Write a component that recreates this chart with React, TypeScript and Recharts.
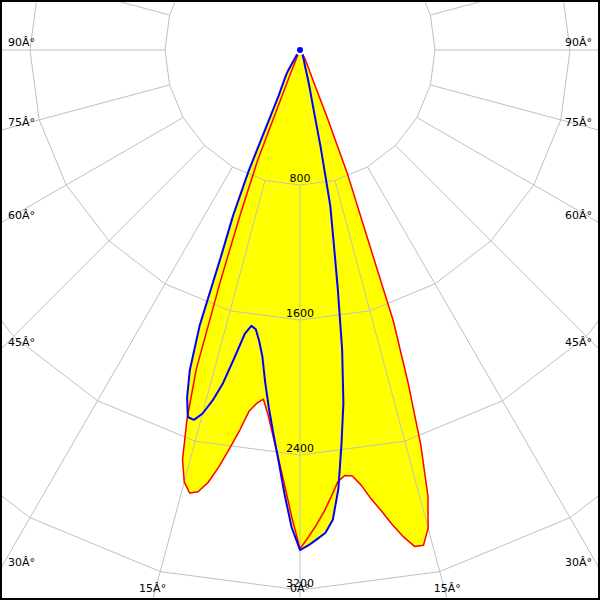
import React from 'react';
import { RadarChart, Radar, PolarGrid, PolarAngleAxis, PolarRadiusAxis } from 'recharts';

const W = 600;
const H = 600;
const CX = 300;
const CY = 50;
const OUTER = 675; // 4000 cd

// gamma angle (deg), 0 = straight down
const angles = [
  -180, -135, -90, -60, -45, -40, -35,
  -30, -29, -28, -27, -26, -25, -24, -23, -22, -21, -20, -19, -18, -17, -16,
  -15, -14, -13, -12, -11, -10, -9, -8, -7, -6, -5, -4, -3, -2, -1,
  0,
  1, 2, 3, 4, 5, 6, 7, 8, 9, 10, 11, 12, 13, 14, 15,
  16, 17, 18, 19, 20, 21, 22, 23, 24, 25, 26, 27, 28, 29, 30,
  35, 40, 45, 60, 90, 135, 180,
];

// cd/klm, red plane (filled)
const redPlane = [
  0, 0, 0, 0, 0, 0, 0,
  0, 0, 0, 0, 0, 0, 10, 40, 150, 700, 1020, 1450, 1990, 2292, 2525,
  2650, 2705, 2687, 2620, 2515, 2395, 2280, 2160, 2110, 2080, 2170, 2293, 2427, 2585, 2770,
  2955,
  2886, 2815, 2738, 2653, 2569, 2535, 2544, 2604, 2693, 2773, 2865, 2950, 3019, 3025, 2933,
  2751, 2450, 2070, 1700, 1060, 780, 420, 220, 160, 120, 100, 85, 75, 65, 55,
  20, 0, 0, 0, 0, 0, 0,
];

// cd/klm, blue plane
const bluePlane = [
  0, 0, 0, 0, 0, 0, 25,
  140, 170, 195, 220, 255, 300, 440, 780, 1060, 1291, 1740, 2005, 2165, 2274, 2280,
  2230, 2140, 2025, 1860, 1712, 1660, 1675, 1740, 1830, 1977, 2125, 2274, 2437, 2633, 2830,
  2963,
  2935, 2900, 2866, 2790, 2610, 2350, 2110, 1795, 1430, 1140, 940, 590, 340, 250, 190,
  140, 105, 90, 80, 70, 62, 55, 50, 45, 40, 36, 32, 28, 24, 20,
  0, 0, 0, 0, 0, 0, 0,
];

const data = angles.map((a, i) => ({ angle: a, red: redPlane[i], blue: bluePlane[i] }));

const GRID = '#c0c0c0';
const FONT = { fontFamily: 'DejaVu Sans', fontSize: 11, fill: '#000' };

function AngleTick(props: any) {
  const { payload } = props;
  const v = payload.value;
  if (Math.abs(v) > 90) return <g />;
  const rad = (payload.coordinate * Math.PI) / 180;
  const dx = Math.cos(rad);
  const dy = -Math.sin(rad);
  let t = Infinity;
  if (dx < -1e-6) t = Math.min(t, -CX / dx);
  if (dx > 1e-6) t = Math.min(t, (W - CX) / dx);
  if (dy > 1e-6) t = Math.min(t, (H - CY) / dy);
  const hx = CX + dx * t;
  const hy = CY + dy * t;
  const label = `${Math.abs(v)}Â°`;
  if (hy >= H - 1) {
    return <text x={hx} y={592} textAnchor="middle" {...FONT}>{label}</text>;
  }
  if (dx < 0) {
    return <text x={8} y={hy - 4} textAnchor="start" {...FONT}>{label}</text>;
  }
  return <text x={592} y={hy - 4} textAnchor="end" {...FONT}>{label}</text>;
}

function RadiusTick(props: any) {
  const { x, y, payload } = props;
  if (payload.value === 0 || payload.value >= 4000) return <g />;
  return <text x={x} y={y - 3} textAnchor="middle" {...FONT}>{payload.value}</text>;
}

export default function App() {
  return (
    <div style={{ position: 'relative', width: W, height: H, background: '#fff' }}>
      <style>{'body{margin:0}'}</style>
      <RadarChart
        width={W}
        height={H}
        data={data}
        cx={CX}
        cy={CY}
        outerRadius={OUTER}
        startAngle={-270}
        endAngle={90}
        margin={{ top: 0, right: 0, bottom: 0, left: 0 }}
      >
        <Radar name="redFill" dataKey="red" stroke="none" fill="#ffff00" fillOpacity={1} isAnimationActive={false} />
        <Radar name="blueFill" dataKey="blue" stroke="none" fill="#ffff00" fillOpacity={1} isAnimationActive={false} />
        <PolarGrid gridType="polygon" radialLines={false} stroke={GRID} zIndex={200} />
        <PolarAngleAxis
          dataKey="angle"
          type="number"
          domain={[-180, 180]}
          tickCount={25}
          orientation="inner"
          tickSize={OUTER - 135}
          axisLine={false}
          tickLine={{ stroke: GRID }}
          tick={(p: any) => <AngleTick {...p} />}
        />
        <PolarRadiusAxis
          angle={-90}
          type="number"
          domain={[0, 4000]}
          tickCount={6}
          axisLine={false}
          tickLine={false}
          tick={(p: any) => <RadiusTick {...p} />}
        />
        <Radar name="C0" dataKey="red" stroke="#ff0000" strokeWidth={1.5} strokeLinejoin="round" fill="none" fillOpacity={0} isAnimationActive={false} zIndex={700} />
        <Radar name="C90" dataKey="blue" stroke="#0000ff" strokeWidth={2} strokeLinejoin="round" fill="none" fillOpacity={0} isAnimationActive={false} zIndex={710} />
      </RadarChart>
      <div
        style={{
          position: 'absolute',
          left: 0,
          top: 0,
          width: W,
          height: H,
          boxSizing: 'border-box',
          border: '2px solid #000',
          pointerEvents: 'none',
        }}
      />
    </div>
  );
}
